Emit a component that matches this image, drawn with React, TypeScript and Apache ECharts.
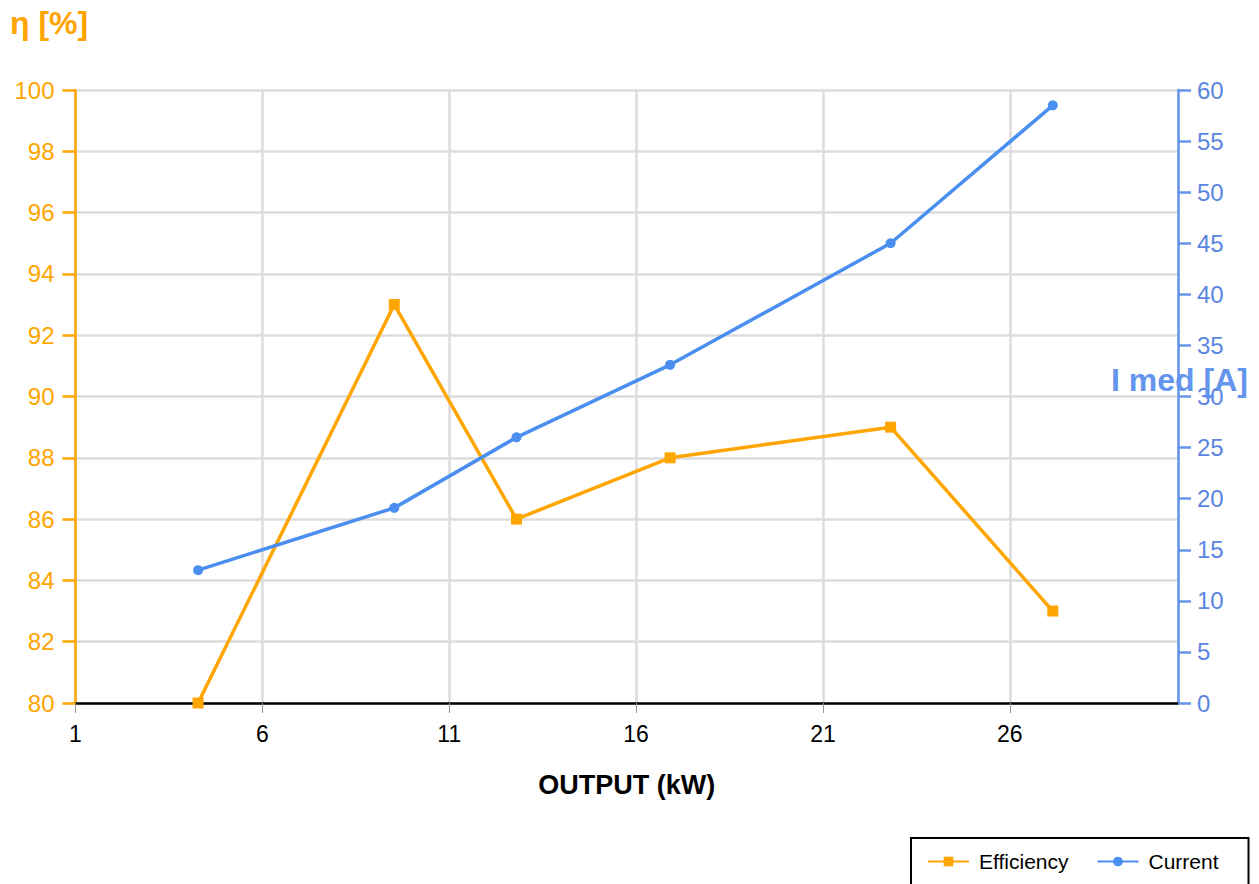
import React, { useEffect, useRef } from "react";
import * as echarts from "echarts";

const outputKW = [4.28, 9.53, 12.8, 16.91, 22.81, 27.15];
const efficiency = [80, 93, 86, 88, 89, 83];
const current = [13, 19.1, 26, 33.1, 45, 58.5];
const xStart = 1;
const xEnd = 30.5;
const xStep = 5;

const ORANGE = "#FFA500";
const BLUE_LINE = "#4A8FF0";
const BLUE_AXIS = "#6495ED";
const FONT = "'Liberation Sans', Arial, sans-serif";

export default function App() {
  const ref = useRef<HTMLDivElement>(null);

  useEffect(() => {
    if (!ref.current) return;
    const chart = echarts.init(ref.current, undefined, { renderer: "svg" });
    const effData = outputKW.map((x, i) => [x - xStart, efficiency[i]]);
    const curData = outputKW.map((x, i) => [x - xStart, current[i]]);
    chart.setOption({
      animation: false,
      backgroundColor: "#ffffff",
      textStyle: { fontFamily: FONT },
      grid: { left: 75.5, right: 81, top: 90, bottom: 181, containLabel: false },
      legend: {
        left: 911,
        top: 838,
        orient: "horizontal",
        padding: [13, 30, 20, 16],
        borderColor: "#000",
        borderWidth: 2,
        itemWidth: 41,
        itemHeight: 12,
        itemGap: 28,
        textStyle: { fontSize: 21, color: "#000", fontFamily: FONT, padding: [0, 0, 0, 5] },
        data: ["Efficiency", "Current"],
      },
      xAxis: {
        type: "value",
        min: 0,
        max: xEnd - xStart,
        interval: xStep,
        name: "OUTPUT (kW)",
        nameLocation: "middle",
        nameGap: 68,
        nameTextStyle: { fontSize: 27, fontWeight: "bold", color: "#000", fontFamily: FONT },
        axisLine: { show: true, onZero: false, lineStyle: { color: "#000", width: 2.5 } },
        axisTick: { show: true, length: 10, lineStyle: { color: "#999", width: 1 } },
        axisLabel: {
          fontSize: 23,
          color: "#000",
          margin: 19,
          showMaxLabel: false,
          formatter: (v: number) => String(Math.round((v + xStart) * 10) / 10),
        },
        splitLine: { show: true, lineStyle: { color: "#dcdcdc", width: 2.5 } },
      },
      yAxis: [
        {
          type: "value",
          min: 80,
          max: 100,
          interval: 2,
          position: "left",
          axisLine: { show: true, onZero: false, lineStyle: { color: ORANGE, width: 2.5 } },
          axisTick: { show: true, length: 13, lineStyle: { color: ORANGE, width: 2.5 } },
          axisLabel: { fontSize: 24, color: ORANGE, margin: 21 },
          splitLine: { show: true, lineStyle: { color: "#dcdcdc", width: 2.5 } },
        },
        {
          type: "value",
          min: 0,
          max: 60,
          interval: 5,
          position: "right",
          axisLine: { show: true, onZero: false, lineStyle: { color: BLUE_AXIS, width: 2.5 } },
          axisTick: { show: true, length: 13, lineStyle: { color: BLUE_AXIS, width: 2.5 } },
          axisLabel: { fontSize: 24, color: "#5A85E0", margin: 19 },
          splitLine: { show: false },
        },
      ],
      graphic: [
        {
          type: "text",
          left: 10,
          top: 7,
          style: { text: "η [%]", fill: ORANGE, font: `bold 32px ${FONT}` },
        },
        {
          type: "text",
          left: 1111,
          top: 364,
          z: 10,
          style: { text: "I med [A]", fill: BLUE_AXIS, font: `bold 32px ${FONT}` },
        },
      ],
      series: [
        {
          name: "Efficiency",
          type: "line",
          yAxisIndex: 0,
          data: effData,
          symbol: "rect",
          symbolSize: 11,
          showAllSymbol: true,
          itemStyle: { color: ORANGE },
          lineStyle: { color: ORANGE, width: 3.5 },
        },
        {
          name: "Current",
          type: "line",
          yAxisIndex: 1,
          data: curData,
          symbol: "circle",
          symbolSize: 10,
          showAllSymbol: true,
          itemStyle: { color: BLUE_LINE },
          lineStyle: { color: BLUE_LINE, width: 3.5 },
        },
      ],
    });
    return () => chart.dispose();
  }, []);

  return (
    <div
      ref={ref}
      style={{ position: "fixed", left: 0, top: 0, width: 1259, height: 884, background: "#fff" }}
    />
  );
}
